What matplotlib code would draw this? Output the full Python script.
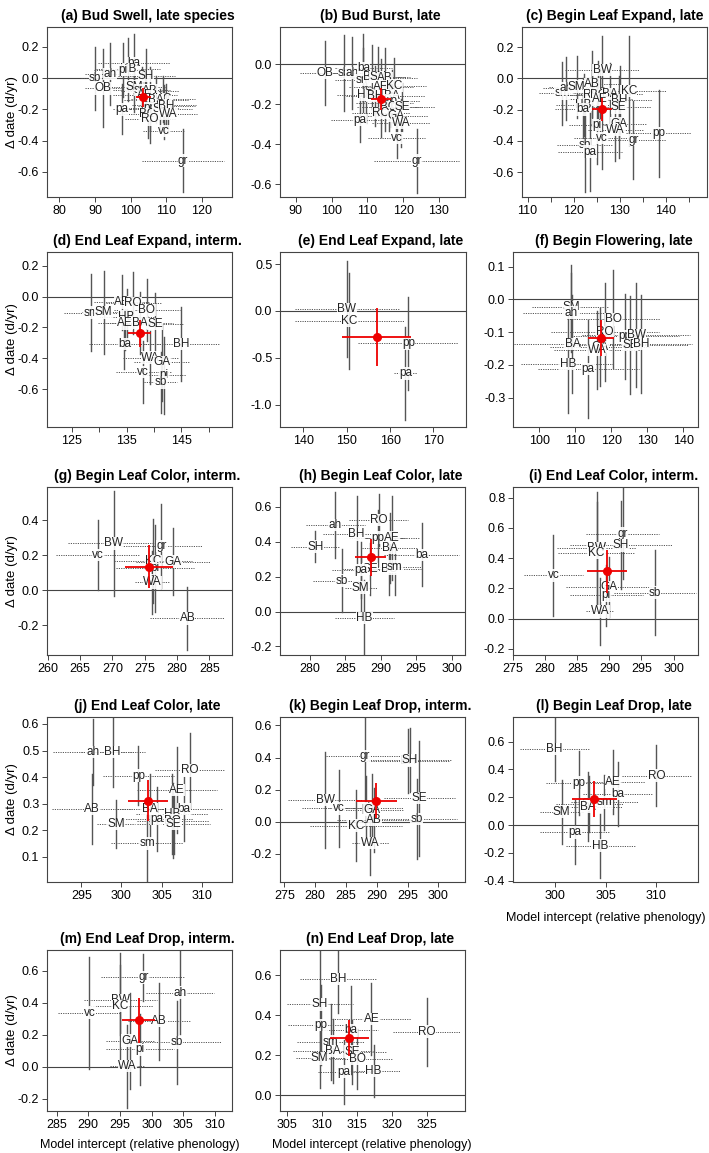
import matplotlib
matplotlib.use("Agg")
import matplotlib.pyplot as plt

plt.rcParams['font.family'] = ['Liberation Sans', 'DejaVu Sans']
plt.rcParams['axes.unicode_minus'] = False

# ---- (a) Bud Swell, late species
a_sp = ['ba', 'HB', 'pi', 'ah', 'sb', 'SH', 'OB', 'SM', 'sm', 'AB', 'AE', 'KC', 'BA', 'GA',
        'pp', 'BO', 'SE', 'BH', 'WA', 'RO', 'pa', 'vc', 'gr']
a_x = [100.9, 99.3, 97.8, 94.2, 90.0, 104.3, 92.2, 100.9, 103.1, 105.4, 104.0, 109.1, 107.1, 109.3,
       105.4, 104.7, 108.2, 109.9, 110.5, 105.4, 97.5, 109.3, 114.7]
a_y = [0.094, 0.055, 0.051, 0.026, -0.002, 0.013, -0.066, -0.055, -0.077, -0.081, -0.109, -0.134, -0.14, -0.173,
       -0.194, -0.23, -0.2, -0.179, -0.23, -0.264, -0.2, -0.337, -0.528]
a_xe = [10, 9, 8, 7, 4, 8, 5, 9, 8, 8, 9, 9, 9, 9, 8, 8, 9, 8, 8, 7, 2.5, 6, 11.5]
a_ye = [0.19, 0.2, 0.17, 0.2, 0.2, 0.17, 0.25, 0.16, 0.15, 0.15, 0.16, 0.15, 0.15, 0.13,
        0.14, 0.15, 0.13, 0.14, 0.12, 0.15, 0.16, 0.05, 0.2]
a_mean = [103.5, -0.124, 2.1, 0.06]

# ---- (b) Bud Burst, late
b_sp = ['OB', 'sb', 'ah', 'ba', 'sm', 'BW', 'SM', 'AB', 'AE', 'KC', 'HB', 'BA', 'BH', 'pp', 'pi',
        'BO', 'SE', 'RO', 'GA', 'WA', 'pa', 'vc', 'gr']
b_x = [98.1, 103.5, 105.8, 108.9, 108.9, 111.4, 113.0, 114.9, 113.8, 117.5, 109.5, 117.0, 112.1, 116.6, 114.9,
       116.0, 119.8, 113.8, 117.9, 119.4, 107.9, 118.2, 123.8]
b_y = [-0.045, -0.045, -0.045, -0.02, -0.078, -0.065, -0.065, -0.07, -0.112, -0.107, -0.153, -0.158, -0.158, -0.182, -0.195,
       -0.215, -0.215, -0.245, -0.258, -0.295, -0.278, -0.37, -0.482]
b_xe = [7, 8, 7, 8, 8, 9, 9, 9, 9, 9, 8, 9, 8, 8, 8, 9, 9, 8, 9, 8, 8, 8, 11.9]
b_ye = [0.16, 0.19, 0.18, 0.17, 0.16, 0.16, 0.15, 0.15, 0.14, 0.14, 0.14, 0.13, 0.15, 0.13, 0.14,
        0.12, 0.12, 0.12, 0.12, 0.12, 0.11, 0.1, 0.16]
b_mean = [113.8, -0.173, 2.9, 0.054]

# ---- (c) Begin Leaf Expand, late
c_sp = ['BW', 'sm', 'ah', 'SM', 'AB', 'RO', 'BO', 'BA', 'KC', 'AE', 'HB', 'ba', 'BH', 'SE',
        'pi', 'GA', 'WA', 'vc', 'gr', 'pp', 'sb', 'pa']
c_x = [126.2, 117.5, 118.4, 120.7, 124.0, 124.0, 125.4, 128.0, 132.0, 125.8, 122.2, 122.0, 130.0, 129.8,
       125.1, 129.8, 129.1, 126.2, 133.0, 138.5, 122.5, 123.6]
c_y = [0.053, -0.096, -0.064, -0.053, -0.036, -0.107, -0.107, -0.1, -0.079, -0.134, -0.17, -0.198, -0.138, -0.185,
       -0.298, -0.29, -0.33, -0.383, -0.394, -0.351, -0.426, -0.469]
c_xe = [8, 5, 5, 6, 6, 7, 7, 7, 8, 7, 6, 6, 7, 7, 6, 6, 6, 6, 7, 7, 6, 7]
c_ye = [0.22, 0.2, 0.2, 0.2, 0.21, 0.2, 0.22, 0.2, 0.35, 0.2, 0.2, 0.2, 0.22, 0.2,
        0.25, 0.22, 0.2, 0.2, 0.25, 0.28, 0.3, 0.25]
c_mean = [126.2, -0.198, 2.2, 0.075]

# ---- (d) End Leaf Expand, interm.
d_sp = ['AB', 'RO', 'BO', 'sm', 'SM', 'HB', 'AE', 'BA', 'SE', 'ba', 'BH', 'WA', 'GA', 'vc', 'pi', 'sb']
d_x = [134.1, 136.2, 138.7, 128.6, 130.8, 135.0, 134.7, 137.4, 140.2, 134.6, 145.0, 139.3, 141.4, 138.0, 141.8, 141.2]
d_y = [-0.037, -0.043, -0.087, -0.104, -0.102, -0.13, -0.174, -0.169, -0.178, -0.308, -0.308, -0.395, -0.427,
       -0.49, -0.51, -0.557]
d_xe = [5, 5, 6, 5, 4, 5, 5, 6, 5, 6.5, 7, 5, 5, 5, 4, 3]
d_ye = [0.18, 0.2, 0.2, 0.25, 0.27, 0.18, 0.17, 0.2, 0.2, 0.16, 0.24, 0.17, 0.25, 0.2, 0.25, 0.2]
d_mean = [137.4, -0.239, 2.1, 0.087]

# ---- (e) End Leaf Expand, late
e_sp = ['BW', 'KC', 'pp', 'pa']
e_x = [150.0, 150.6, 164.2, 163.5]
e_y = [0.02, -0.107, -0.346, -0.668]
e_xe = [12, 12.6, 11.5, 2.7]
e_ye = [0.51, 0.51, 0.5, 0.5]
e_mean = [156.9, -0.282, 8.0, 0.31]

# ---- (f) Begin Flowering, late
f_sp = ['SM', 'ah', 'BO', 'BA', 'HB', 'pa', 'RO', 'pp', 'BW', 'SE', 'BH', 'GA', 'WA']
f_x = [108.8, 108.8, 120.6, 109.2, 107.9, 113.6, 118.2, 123.8, 127.0, 125.2, 128.4, 116.9, 116.0]
f_y = [-0.024, -0.04, -0.061, -0.137, -0.198, -0.213, -0.099, -0.112, -0.109, -0.14, -0.137, -0.145, -0.155]
f_xe = [10.7, 13.4, 13, 22, 13, 14, 15, 15, 15, 16, 14, 14, 12]
f_ye = [0.13, 0.12, 0.15, 0.15, 0.15, 0.15, 0.15, 0.13, 0.16, 0.15, 0.15, 0.12, 0.12]
f_mean = [117.1, -0.119, 3.7, 0.055]

# ---- (g) Begin Leaf Color, interm.
g_sp = ['BW', 'vc', 'gr', 'KC', 'GA', 'pi', 'WA', 'AB']
g_x = [270.2, 267.8, 277.6, 276.3, 279.4, 276.6, 276.2, 281.6]
g_y = [0.267, 0.2, 0.253, 0.166, 0.162, 0.124, 0.044, -0.162]
g_xe = [7, 6.5, 6.2, 6, 5.7, 6, 2.7, 5.7]
g_ye = [0.3, 0.2, 0.24, 0.24, 0.19, 0.25, 0.18, 0.18]
g_mean = [275.7, 0.133, 3.7, 0.124]

# ---- (h) Begin Leaf Color, late
h_sp = ['RO', 'ah', 'BH', 'pp', 'AE', 'SH', 'BA', 'ba', 'SE', 'BO', 'pa', 'sm', 'sb', 'SM', 'HB']
h_x = [289.7, 283.6, 286.6, 289.6, 291.6, 280.8, 291.3, 295.8, 288.5, 291.2, 287.2, 292.0, 284.5, 287.2, 287.7]
h_y = [0.524, 0.495, 0.442, 0.423, 0.423, 0.371, 0.366, 0.324, 0.242, 0.242, 0.238, 0.257, 0.177, 0.137, -0.038]
h_xe = [4.2, 4.2, 4.7, 4, 4, 3.5, 4, 5.3, 4, 4.5, 4, 3.8, 4.1, 2.3, 4.2]
h_ye = [0.15, 0.19, 0.22, 0.16, 0.24, 0.09, 0.2, 0.18, 0.15, 0.15, 0.16, 0.16, 0.18, 0.18, 0.22]
h_mean = [288.6, 0.31, 2.2, 0.105]

# ---- (i) End Leaf Color, interm.
i_sp = ['gr', 'SH', 'BW', 'KC', 'vc', 'GA', 'pi', 'sb', 'WA']
i_x = [292.1, 291.8, 288.0, 288.0, 281.3, 290.0, 289.5, 297.1, 288.6]
i_y = [0.562, 0.485, 0.467, 0.434, 0.286, 0.209, 0.154, 0.172, 0.048]
i_xe = [5.7, 7.9, 6.1, 6, 4.6, 6.8, 5.7, 6.4, 2.2]
i_ye = [0.3, 0.29, 0.37, 0.34, 0.27, 0.2, 0.2, 0.28, 0.22]
i_mean = [289.6, 0.313, 3.1, 0.143]

# ---- (j) End Leaf Color, late
j_sp = ['ah', 'BH', 'pp', 'RO', 'AE', 'AB', 'BA', 'ba', 'SM', 'pa', 'HB', 'BO', 'SE', 'sm']
j_x = [296.4, 298.9, 302.1, 308.5, 306.9, 296.3, 303.5, 307.8, 299.3, 304.4, 306.3, 306.4, 306.5, 303.2]
j_y = [0.494, 0.494, 0.406, 0.425, 0.352, 0.28, 0.28, 0.28, 0.224, 0.243, 0.26, 0.237, 0.223, 0.151]
j_xe = [5, 4, 4.4, 4.3, 5, 5, 4, 4.7, 2.4, 4.5, 4.5, 4.5, 4.6, 4.5]
j_ye = [0.125, 0.13, 0.11, 0.14, 0.16, 0.13, 0.13, 0.12, 0.09, 0.12, 0.15, 0.14, 0.11, 0.14]
j_mean = [303.3, 0.312, 2.5, 0.078]

# ---- (k) Begin Leaf Drop, interm.
k_sp = ['gr', 'BH', 'SH', 'BW', 'SE', 'vc', 'pi', 'GA', 'AB', 'sb', 'KC', 'WA']
k_x = [288.1, 295.1, 295.3, 281.6, 296.9, 283.8, 288.3, 289.2, 289.5, 296.5, 286.6, 288.9]
k_y = [0.41, 0.38, 0.383, 0.135, 0.146, 0.083, 0.083, 0.075, 0.01, 0.015, -0.025, -0.135]
k_xe = [6.4, 6.8, 6.8, 6, 5.8, 5.9, 6, 5, 6, 6.5, 7.5, 3]
k_ye = [0.29, 0.2, 0.2, 0.3, 0.36, 0.24, 0.2, 0.22, 0.2, 0.25, 0.22, 0.2]
k_mean = [289.9, 0.131, 3.3, 0.11]

# ---- (l) Begin Leaf Drop, late
l_sp = ['BH', 'RO', 'pp', 'AE', 'ba', 'sm', 'SE', 'BA', 'SM', 'pa', 'HB']
l_x = [300.0, 310.0, 302.4, 305.7, 306.2, 304.9, 303.4, 303.3, 300.7, 302.0, 304.5]
l_y = [0.547, 0.355, 0.305, 0.307, 0.223, 0.163, 0.149, 0.132, 0.096, -0.053, -0.149]
l_xe = [3.4, 3.4, 3.3, 3.2, 3.4, 3.3, 3.3, 3.3, 2.1, 3.4, 3.4]
l_ye = [0.23, 0.22, 0.23, 0.23, 0.23, 0.2, 0.2, 0.25, 0.23, 0.23, 0.23]
l_mean = [303.9, 0.185, 2.2, 0.13]

# ---- (m) End Leaf Drop, interm.
m_sp = ['gr', 'ah', 'BW', 'KC', 'vc', 'AB', 'GA', 'sb', 'pi', 'WA']
m_x = [298.7, 304.5, 295.1, 295.1, 290.2, 301.2, 296.6, 304.0, 298.2, 296.2]
m_y = [0.558, 0.463, 0.417, 0.38, 0.338, 0.285, 0.163, 0.152, 0.108, 0.004]
m_xe = [6.6, 5.4, 5.8, 5.2, 5, 4.9, 3.8, 7, 5.4, 2.8]
m_ye = [0.15, 0.26, 0.22, 0.33, 0.35, 0.24, 0.3, 0.26, 0.22, 0.26]
m_mean = [298.0, 0.29, 2.6, 0.14]

# ---- (n) End Leaf Drop, late
n_sp = ['BH', 'SH', 'AE', 'RO', 'pp', 'ba', 'sm', 'BA', 'SE', 'SM', 'BO', 'pa', 'HB']
n_x = [312.3, 309.7, 317.1, 325.0, 309.9, 314.2, 311.3, 311.6, 314.3, 309.7, 315.1, 313.2, 317.4]
n_y = [0.58, 0.453, 0.38, 0.317, 0.35, 0.323, 0.267, 0.22, 0.217, 0.183, 0.18, 0.117, 0.12]
n_xe = [5.4, 4.7, 5.6, 4.8, 4.8, 3.9, 4.8, 5.7, 5.0, 3.4, 5.0, 3.8, 3.8]
n_ye = [0.17, 0.3, 0.18, 0.17, 0.2, 0.22, 0.19, 0.16, 0.16, 0.15, 0.15, 0.16, 0.13]
n_mean = [313.9, 0.287, 2.8, 0.09]

titles = ['(a) Bud Swell, late species', '(b) Bud Burst, late', '(c) Begin Leaf Expand, late',
          '(d) End Leaf Expand, interm.', '(e) End Leaf Expand, late', '(f) Begin Flowering, late',
          '(g) Begin Leaf Color, interm.', '(h) Begin Leaf Color, late', '(i) End Leaf Color, interm.',
          '(j) End Leaf Color, late', '(k) Begin Leaf Drop, interm.', '(l) Begin Leaf Drop, late',
          '(m) End Leaf Drop, interm.', '(n) End Leaf Drop, late']

W, H = 709, 1153
# frame boxes in pixels: left, top, right, bottom
boxes = [(47, 27, 232, 197), (280, 27, 465, 197), (522, 27, 707, 197),
         (47, 252, 232, 427), (280, 252, 466, 427), (513, 252, 698, 427),
         (47, 487, 232, 655), (280, 487, 465, 655), (513, 487, 698, 655),
         (47, 717, 232, 882), (280, 717, 465, 882), (513, 717, 698, 882),
         (47, 950, 232, 1111), (280, 950, 465, 1111)]
# horizontal nudge of each title, pixels
title_dx = [8, 8, 0, 8, 8, 8, 8, 8, 8, 8, 8, 8, 8, 8]
xlims = [(76.5, 128.4), (85.6, 137.3), (108.8, 149.0), (120.5, 154.2), (134.6, 177.5), (92.7, 144.1),
         (259.9, 288.5), (275.8, 301.9), (275.0, 303.8), (290.7, 313.8), (274.3, 304.3), (295.9, 314.1),
         (283.5, 312.7), (304.0, 330.5)]
ylims = [(-0.76, 0.326), (-0.664, 0.186), (-0.76, 0.33), (-0.846, 0.29), (-1.24, 0.63), (-0.39, 0.145),
         (-0.371, 0.589), (-0.249, 0.713), (-0.24, 0.87), (0.006, 0.626), (-0.377, 0.653), (-0.41, 0.777),
         (-0.277, 0.73), (-0.08, 0.725)]
xticks = [[80, 90, 100, 110, 120], [90, 100, 110, 120, 130], [110, 115, 120, 125, 130, 135, 140, 145],
          [125, 130, 135, 140, 145, 150], [140, 150, 160, 170], [100, 110, 120, 130, 140],
          [260, 265, 270, 275, 280, 285], [280, 285, 290, 295, 300], [275, 280, 285, 290, 295, 300],
          [295, 300, 305, 310], [275, 280, 285, 290, 295, 300], [300, 305, 310],
          [285, 290, 295, 300, 305, 310], [305, 310, 315, 320, 325]]
xlabeled = [None, None, [110, 120, 130, 140], [125, 135, 145], None, None, None, None, None,
            None, None, None, None, None]
yticks = [[-0.6, -0.4, -0.2, 0.0, 0.2], [-0.6, -0.4, -0.2, 0.0], [-0.6, -0.4, -0.2, 0.0, 0.2],
          [-0.6, -0.4, -0.2, 0.0, 0.2], [-1.0, -0.5, 0.0, 0.5], [-0.3, -0.2, -0.1, 0.0, 0.1],
          [-0.2, 0.0, 0.2, 0.4], [-0.2, 0.0, 0.2, 0.4, 0.6], [-0.2, 0.0, 0.2, 0.4, 0.6, 0.8],
          [0.1, 0.2, 0.3, 0.4, 0.5, 0.6], [-0.2, 0.0, 0.2, 0.4, 0.6], [-0.4, -0.2, 0.0, 0.2, 0.4, 0.6],
          [-0.2, 0.0, 0.2, 0.4, 0.6], [0.0, 0.2, 0.4, 0.6]]

panels = [(a_sp, a_x, a_y, a_xe, a_ye, a_mean), (b_sp, b_x, b_y, b_xe, b_ye, b_mean),
          (c_sp, c_x, c_y, c_xe, c_ye, c_mean), (d_sp, d_x, d_y, d_xe, d_ye, d_mean),
          (e_sp, e_x, e_y, e_xe, e_ye, e_mean), (f_sp, f_x, f_y, f_xe, f_ye, f_mean),
          (g_sp, g_x, g_y, g_xe, g_ye, g_mean), (h_sp, h_x, h_y, h_xe, h_ye, h_mean),
          (i_sp, i_x, i_y, i_xe, i_ye, i_mean), (j_sp, j_x, j_y, j_xe, j_ye, j_mean),
          (k_sp, k_x, k_y, k_xe, k_ye, k_mean), (l_sp, l_x, l_y, l_xe, l_ye, l_mean),
          (m_sp, m_x, m_y, m_xe, m_ye, m_mean), (n_sp, n_x, n_y, n_xe, n_ye, n_mean)]

fig = plt.figure(figsize=(W / 100, H / 100), dpi=100)

for idx, (sp, xs, ys, xes, yes, mean) in enumerate(panels):
    L, T, R, B = boxes[idx]
    ax = fig.add_axes([L / W, 1 - B / H, (R - L) / W, (B - T) / H])
    ax.axhline(0, color='#444444', lw=0.8, zorder=1)
    for x, y, xe, ye in zip(xs, ys, xes, yes):
        ax.plot([x - xe, x + xe], [y, y], color='#555555', lw=0.7, ls=(0, (1.2, 1.2)), zorder=1)
        ax.plot([x, x], [y - ye, y + ye], color='#555555', lw=1.0, zorder=1)
    for s, x, y in zip(sp, xs, ys):
        ax.text(x, y, s, ha='center', va='center', fontsize=8.5, color='#222222', zorder=2,
                bbox=dict(facecolor='white', edgecolor='none', pad=0.2, alpha=0.9))
    mx, my, mxe, mye = mean
    ax.errorbar([mx], [my], xerr=[mxe], yerr=[mye], fmt='o', color='#ee0000', ms=5.5,
                elinewidth=1.3, capsize=0, zorder=3)
    ax.set_xlim(*xlims[idx])
    ax.set_ylim(*ylims[idx])
    ax.set_xticks(xticks[idx])
    lab = xlabeled[idx]
    ax.set_xticklabels([str(t) if (lab is None or t in lab) else '' for t in xticks[idx]])
    ax.set_yticks(yticks[idx])
    ax.set_yticklabels(['%.1f' % t for t in yticks[idx]])
    ax.tick_params(direction='out', length=3.5, width=0.7, labelsize=9, pad=2, color='#444444')
    for sp_ in ax.spines.values():
        sp_.set_color('#444444')
        sp_.set_linewidth(0.8)
    ax.set_title(titles[idx], fontsize=10, fontweight='bold', pad=5,
                 x=0.5 + title_dx[idx] / (R - L))

for row_top, row_bot in [(27, 197), (252, 427), (487, 655), (717, 882), (950, 1111)]:
    fig.text(12 / W, 1 - (row_top + row_bot) / 2 / H, 'Δ date (d/yr)', rotation=90,
             ha='center', va='center', fontsize=9.5)

for cx, cy in [(606, 918), (140, 1145), (372, 1145)]:
    fig.text(cx / W, 1 - cy / H, 'Model intercept (relative phenology)', ha='center',
             va='center', fontsize=9)

fig.savefig('out.png', dpi=100)
